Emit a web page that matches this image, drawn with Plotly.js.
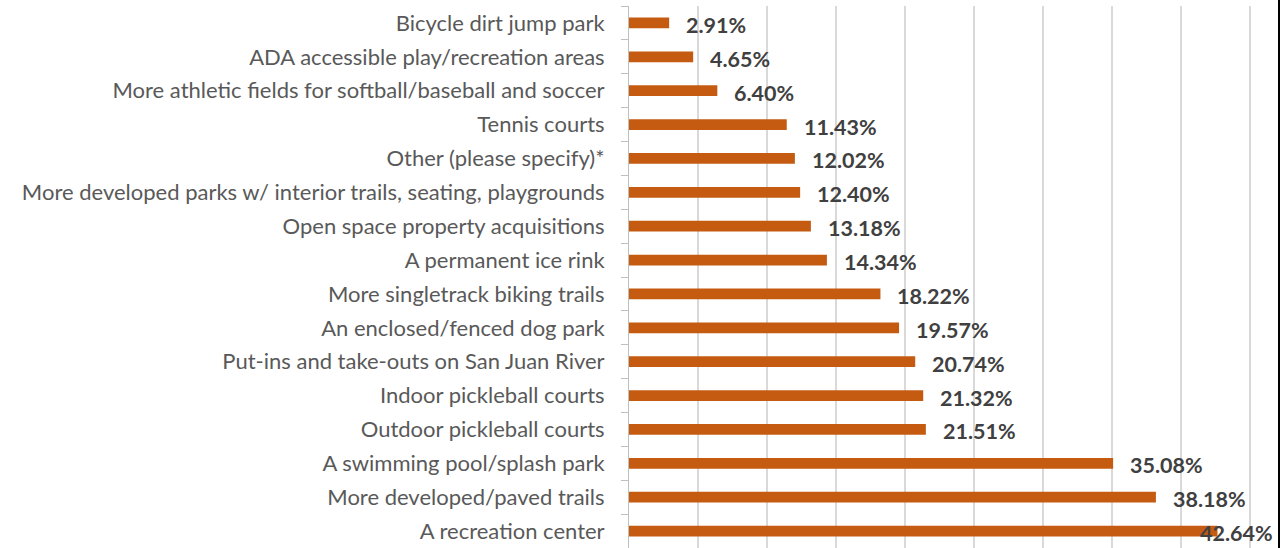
<!DOCTYPE html>
<html>
<head>
<meta charset="utf-8">
<script src="https://cdn.plot.ly/plotly-3.0.1.min.js"></script>
<style>html,body{margin:0;padding:0;background:#fff;}#chart{width:1288px;height:548px;}</style>
</head>
<body>
<div id="chart"></div>
<script>
// Categories listed bottom-to-top (Plotly draws first category at bottom)
const categories = [
  "A recreation center",
  "More developed/paved trails",
  "A swimming pool/splash park",
  "Outdoor pickleball courts",
  "Indoor pickleball courts",
  "Put-ins and take-outs on San Juan River",
  "An enclosed/fenced dog park",
  "More singletrack biking trails",
  "A permanent ice rink",
  "Open space property acquisitions",
  "More developed parks w/ interior trails, seating, playgrounds",
  "Other (please specify)*",
  "Tennis courts",
  "More athletic fields for softball/baseball and soccer",
  "ADA accessible play/recreation areas",
  "Bicycle dirt jump park"
];
const values = [42.64, 38.18, 35.08, 21.51, 21.32, 20.74, 19.57, 18.22, 14.34, 13.18, 12.40, 12.02, 11.43, 6.40, 4.65, 2.91];
const valueLabels = ["42.64%", "38.18%", "35.08%", "21.51%", "21.32%", "20.74%", "19.57%", "18.22%", "14.34%", "13.18%", "12.40%", "12.02%", "11.43%", "6.40%", "4.65%", "2.91%"];

const barColor = "#C55A11";
const trace = {
  type: "bar",
  orientation: "h",
  x: values,
  y: categories,
  marker: {color: barColor},
  hoverinfo: "none"
};

const annotations = values.map((v, i) => ({
  x: v,
  y: categories[i],
  xref: "x",
  yref: "y",
  text: valueLabels[i],
  showarrow: false,
  xanchor: "left",
  yanchor: "middle",
  xshift: v > 41 ? -19 : 15,
  yshift: -2,
  font: {family: "Lato, 'Open Sans', sans-serif", size: 21.5, color: "#404040", weight: "bold"}
}));

const layout = {
  width: 1288,
  height: 548,
  margin: {l: 629, r: 9, t: 6, b: 0, pad: 0},
  paper_bgcolor: "#ffffff",
  plot_bgcolor: "#ffffff",
  showlegend: false,
  bargap: 0.68,
  xaxis: {
    range: [0, 47.1],
    dtick: 5,
    tick0: 0,
    showgrid: true,
    gridcolor: "#d9d9d9",
    gridwidth: 1.5,
    zeroline: false,
    showticklabels: false,
    ticks: "",
    showline: false,
    fixedrange: true
  },
  yaxis: {
    type: "category",
    range: [-0.5, 15.5],
    tickson: "boundaries",
    ticks: "outside",
    ticklen: 7,
    tickcolor: "#bfbfbf",
    tickwidth: 1,
    showline: true,
    linecolor: "#bfbfbf",
    linewidth: 1,
    showgrid: false,
    zeroline: false,
    ticklabelstandoff: 19,
    tickfont: {family: "Lato, 'Open Sans', sans-serif", size: 22, color: "#595959"},
    fixedrange: true
  },
  annotations: annotations,
  shapes: [{
    type: "line", xref: "paper", yref: "paper",
    x0: 1, x1: 1, y0: -0.05, y1: 1.05,
    line: {color: "#000000", width: 2}
  }]
};

Plotly.newPlot("chart", [trace], layout, {displayModeBar: false, staticPlot: true});
</script>
</body>
</html>
